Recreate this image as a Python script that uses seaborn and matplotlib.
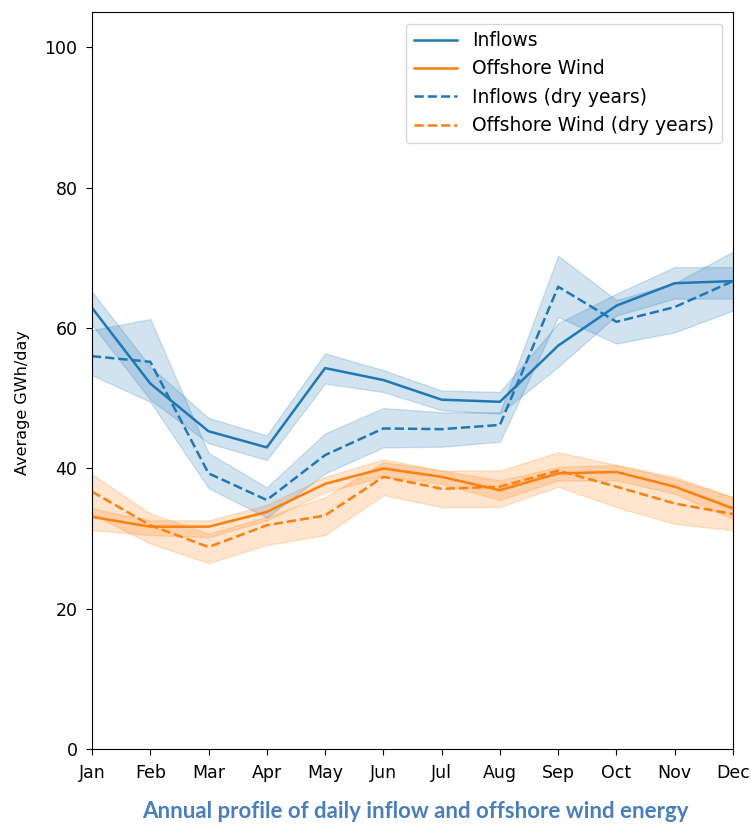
import numpy as np
import pandas as pd
import matplotlib
matplotlib.use('Agg')
import matplotlib.pyplot as plt
import seaborn as sns

# [ data ] ----------------------------------------------------------------
months = ['Jan', 'Feb', 'Mar', 'Apr', 'May', 'Jun', 'Jul', 'Aug', 'Sep', 'Oct', 'Nov', 'Dec']

inflow_mid = [62.9, 52.1, 45.3, 43.0, 54.3, 52.6, 49.8, 49.5, 57.5, 63.2, 66.4, 66.7]
inflow_lo = [60.5, 49.8, 43.6, 41.2, 52.1, 50.9, 48.3, 47.8, 54.5, 61.8, 64.2, 64.2]
inflow_hi = [65.2, 54.5, 47.2, 44.7, 56.4, 54.0, 51.1, 50.9, 60.7, 64.9, 68.7, 68.7]

wind_mid = [33.1, 31.7, 31.7, 33.8, 37.8, 40.0, 38.8, 36.9, 39.3, 39.5, 37.4, 34.3]
wind_lo = [31.2, 30.5, 30.2, 32.6, 36.6, 38.8, 37.8, 35.5, 38.3, 38.3, 36.4, 32.8]
wind_hi = [34.3, 32.6, 32.6, 34.8, 38.8, 41.3, 39.7, 38.3, 40.2, 40.5, 38.5, 35.9]

inflow_dry_mid = [56.0, 55.2, 39.3, 35.5, 41.9, 45.7, 45.6, 46.2, 65.9, 60.9, 63.0, 66.7]
inflow_dry_lo = [53.3, 49.5, 37.2, 33.0, 39.3, 43.0, 43.1, 43.8, 61.6, 57.8, 59.4, 62.5]
inflow_dry_hi = [59.7, 61.3, 42.2, 37.3, 45.0, 48.6, 48.0, 48.0, 70.3, 64.0, 66.4, 70.9]

wind_dry_mid = [36.7, 31.9, 28.8, 31.9, 33.3, 38.8, 37.1, 37.4, 39.7, 37.4, 35.0, 33.5]
wind_dry_lo = [33.5, 29.3, 26.5, 29.1, 30.5, 36.2, 34.5, 34.5, 37.4, 34.5, 32.1, 31.2]
wind_dry_hi = [39.2, 33.6, 30.7, 33.1, 35.9, 40.9, 39.7, 39.7, 42.3, 40.5, 38.8, 35.9]

series = [
    ('Inflows', inflow_lo, inflow_mid, inflow_hi, '#1f77b4', '-'),
    ('Offshore Wind', wind_lo, wind_mid, wind_hi, '#ff7f0e', '-'),
    ('Inflows (dry years)', inflow_dry_lo, inflow_dry_mid, inflow_dry_hi, '#1f77b4', '--'),
    ('Offshore Wind (dry years)', wind_dry_lo, wind_dry_mid, wind_dry_hi, '#ff7f0e', '--'),
]

# [ plot ] ----------------------------------------------------------------
plt.rcParams['font.size'] = 12.5
f, ax = plt.subplots(figsize=(7.51, 8.25), dpi=100)

for name, lo, mid, hi, color, ls in series:
    # median of (lo, mid, hi) = mid, full interval = lo..hi
    df = pd.DataFrame({'month': np.tile(np.arange(12), 3),
                       'value': np.concatenate([lo, mid, hi])})
    sns.lineplot(data=df, x='month', y='value', estimator='median',
                 errorbar=('pi', 100), color=color, linestyle=ls,
                 linewidth=1.8, label=name, ax=ax, err_kws={'alpha': 0.2})

ax.set_xticks(range(12))
ax.set_xticklabels(months)
ax.set_xlim(0, 11)
ax.set_ylim(0, 105)
ax.set_yticks([0, 20, 40, 60, 80, 100])
ax.tick_params(length=4.5, pad=6)
ax.set_xlabel('')
ax.set_ylabel('Average GWh/day', fontsize=11.5)
ax.yaxis.set_label_coords(-0.097, 0.47)
ax.legend(loc='upper right', fontsize=13.5, handlelength=2.3, borderaxespad=0.6)

plt.subplots_adjust(left=0.1225, right=0.976, top=0.985, bottom=0.092)
f.text(0.553, 0.016, 'Annual profile of daily inflow and offshore wind energy',
       ha='center', va='center', color='#4a7ebb', fontsize=16,
       fontweight='bold', family='Lato')

plt.savefig('out.png', dpi=100)
